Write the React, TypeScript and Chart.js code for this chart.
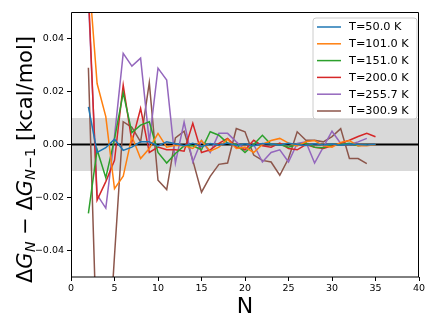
import React, { useEffect, useRef } from "react";
import { Chart, registerables } from "chart.js";

Chart.register(...registerables);

const nValues = [2, 3, 4, 5, 6, 7, 8, 9, 10, 11, 12, 13, 14, 15, 16, 17, 18, 19, 20, 21, 22, 23, 24, 25, 26, 27, 28, 29, 30, 31, 32, 33, 34, 35];

const seriesLabels = ["T=50.0 K", "T=101.0 K", "T=151.0 K", "T=200.0 K", "T=255.7 K", "T=300.9 K"];
const seriesColors = ["#1f77b4", "#ff7f0e", "#2ca02c", "#d62728", "#9467bd", "#8c564b"];

const t50 = [0.0142, -0.003, -0.0012, 0.002, -0.0022, -0.001, 0.001, 0.001, -0.0005, 0.001, 0.0003, -0.0005, 0.0005, -0.0008, 0.0004, -0.0003, 0.0006, -0.0004, 0.0003, -0.0005, 0.0004, 0.0002, -0.0003, 0.0005, 0.0, -0.0004, 0.0003, -0.0002, 0.0002, -0.0003, 0.0002, 0.0, -0.0002, 0.0001];
const t101 = [0.066, 0.023, 0.0105, -0.0167, -0.012, 0.003, -0.0053, -0.0015, 0.0042, -0.001, -0.0003, -0.0005, -0.0015, 0.0015, -0.0025, -0.001, 0.002, -0.0015, -0.001, -0.003, 0.0, 0.0015, 0.0023, 0.0005, -0.0005, 0.001, 0.0015, -0.0005, -0.001, 0.0008, 0.0015, -0.0005, -0.0005, 0.0];
const t151 = [-0.026, -0.002, -0.0125, 0.002, 0.0195, 0.0045, 0.0073, 0.0086, -0.003, -0.007, -0.0034, -0.0005, -0.0005, -0.002, 0.0048, 0.0035, 0.0005, 0.0, -0.003, 0.0, 0.0035, 0.0, 0.0, -0.001, 0.0, 0.0005, -0.001, -0.0012, 0.0, 0.0, 0.0005, -0.0005, 0.0];
const t200 = [0.058, -0.021, -0.014, -0.006, 0.0224, 0.001, 0.0136, -0.003, -0.001, -0.002, -0.002, -0.0025, 0.008, -0.003, -0.002, 0.0004, 0.0023, -0.001, -0.002, 0.0016, -0.0005, -0.001, 0.0005, -0.0015, -0.002, 0.0, -0.001, -0.0015, -0.0005, 0.0005, 0.0016, 0.003, 0.0042, 0.0029];
const t255 = [0.055, -0.019, -0.024, 0.003, 0.0344, 0.0296, 0.0326, 0.001, 0.0288, 0.0243, -0.007, 0.0085, -0.0066, 0.0015, -0.003, 0.0042, 0.0042, 0.001, -0.002, 0.0, -0.0066, -0.003, -0.002, -0.0066, 0.0004, 0.001, -0.007, -0.001, 0.005, 0.0004, 0.0, 0.001, 0.0023];
const t300 = [0.029, -0.08, -0.095, -0.042, 0.0086, 0.0065, 0.001, 0.0233, -0.0135, -0.017, 0.0025, 0.005, -0.006, -0.018, -0.012, -0.0075, -0.007, 0.006, 0.0048, -0.004, -0.006, -0.0066, -0.0116, -0.0053, 0.0048, 0.0016, 0.0016, 0.001, 0.003, 0.006, -0.0053, -0.0053, -0.0072];

const seriesValues = [t50, t101, t151, t200, t255, t300];

const xTicks = [0, 5, 10, 15, 20, 25, 30, 35, 40];
const yTicks = [-0.04, -0.02, 0.0, 0.02, 0.04];
const bandLow = -0.01;
const bandHigh = 0.01;

const FONT = "DejaVu Sans";

const overlayPlugin = {
  id: "overlay",
  beforeDatasetsDraw(chart: any) {
    const { ctx, chartArea, scales } = chart;
    const y = scales.y;
    ctx.save();
    ctx.beginPath();
    ctx.rect(chartArea.left, chartArea.top, chartArea.right - chartArea.left, chartArea.bottom - chartArea.top);
    ctx.clip();
    const yTop = y.getPixelForValue(bandHigh);
    const yBot = y.getPixelForValue(bandLow);
    ctx.fillStyle = "rgba(128,128,128,0.3)";
    ctx.fillRect(chartArea.left, yTop, chartArea.right - chartArea.left, yBot - yTop);
    const y0 = y.getPixelForValue(0);
    ctx.strokeStyle = "#000";
    ctx.lineWidth = 2;
    ctx.beginPath();
    ctx.moveTo(chartArea.left, y0);
    ctx.lineTo(chartArea.right, y0);
    ctx.stroke();
    ctx.restore();
  },
  afterDraw(chart: any) {
    const { ctx, chartArea } = chart;
    ctx.save();
    // frame
    ctx.strokeStyle = "#000";
    ctx.lineWidth = 1;
    ctx.beginPath();
    ctx.moveTo(chartArea.left + 0.5, chartArea.bottom);
    ctx.lineTo(chartArea.left + 0.5, chartArea.top + 0.5);
    ctx.lineTo(chartArea.right - 0.5, chartArea.top + 0.5);
    ctx.lineTo(chartArea.right - 0.5, chartArea.bottom);
    ctx.stroke();
    ctx.beginPath();
    ctx.moveTo(chartArea.left, chartArea.bottom);
    ctx.lineTo(chartArea.right, chartArea.bottom);
    ctx.stroke();

    // legend
    const lx = 313, ly = 18, lw = 104, lh = 101, r = 3;
    ctx.beginPath();
    ctx.moveTo(lx + r, ly);
    ctx.lineTo(lx + lw - r, ly);
    ctx.quadraticCurveTo(lx + lw, ly, lx + lw, ly + r);
    ctx.lineTo(lx + lw, ly + lh - r);
    ctx.quadraticCurveTo(lx + lw, ly + lh, lx + lw - r, ly + lh);
    ctx.lineTo(lx + r, ly + lh);
    ctx.quadraticCurveTo(lx, ly + lh, lx, ly + lh - r);
    ctx.lineTo(lx, ly + r);
    ctx.quadraticCurveTo(lx, ly, lx + r, ly);
    ctx.closePath();
    ctx.fillStyle = "rgba(255,255,255,0.8)";
    ctx.fill();
    ctx.strokeStyle = "#cccccc";
    ctx.lineWidth = 1;
    ctx.stroke();
    chart.data.datasets.forEach((ds: any, i: number) => {
      const yy = 27 + i * 16.8;
      ctx.strokeStyle = ds.borderColor;
      ctx.lineWidth = 1.5;
      ctx.beginPath();
      ctx.moveTo(317, yy);
      ctx.lineTo(341, yy);
      ctx.stroke();
      ctx.fillStyle = "#000";
      ctx.font = `11.3px "${FONT}"`;
      ctx.textAlign = "left";
      ctx.textBaseline = "middle";
      ctx.fillText(ds.label, 349, yy + 0.5);
    });

    // x title
    ctx.fillStyle = "#000";
    ctx.font = `22px "${FONT}"`;
    ctx.textAlign = "center";
    ctx.textBaseline = "alphabetic";
    ctx.fillText("N", 245, 313);

    // y title with subscripts
    ctx.translate(32, 283);
    ctx.rotate(-Math.PI / 2);
    ctx.textAlign = "left";
    ctx.textBaseline = "alphabetic";
    let x = 0;
    const draw = (txt: string, font: string, dy: number) => {
      ctx.font = font;
      ctx.fillText(txt, x, dy);
      x += ctx.measureText(txt).width;
    };
    const main = `21px "${FONT}"`;
    const mainIt = `italic 21px "${FONT}"`;
    const sub = `italic 14.5px "${FONT}"`;
    const subR = `14.5px "${FONT}"`;
    draw("Δ", main, 0);
    draw("G", mainIt, 0);
    draw("N", sub, 3);
    draw(" − ", main, 0);
    draw("Δ", main, 0);
    draw("G", mainIt, 0);
    draw("N", sub, 3);
    draw("−1", subR, 3);
    draw(" [kcal/mol]", main, 0);
    ctx.restore();
  },
};

export default function App() {
  const canvasRef = useRef<HTMLCanvasElement | null>(null);

  useEffect(() => {
    if (!canvasRef.current) return;
    const datasets = seriesValues.map((vals, i) => ({
      label: seriesLabels[i],
      data: vals.map((v, j) => ({ x: nValues[j], y: v })),
      borderColor: seriesColors[i],
      backgroundColor: seriesColors[i],
      borderWidth: 1.5,
      pointRadius: 0,
      tension: 0,
      fill: false,
    }));
    const tickFont = { family: FONT, size: 9.5 };
    const chart = new Chart(canvasRef.current, {
      type: "line",
      data: { datasets },
      options: {
        animation: false,
        responsive: false,
        devicePixelRatio: 1,
        layout: { padding: { top: 12, right: 17, left: 0, bottom: 0 } },
        plugins: { legend: { display: false }, tooltip: { enabled: false } },
        scales: {
          x: {
            type: "linear",
            min: 0,
            max: 40,
            afterBuildTicks: (s: any) => {
              s.ticks = xTicks.map((v) => ({ value: v }));
            },
            afterFit: (s: any) => {
              s.height = 50;
            },
            ticks: {
              font: tickFont,
              color: "#000",
              padding: 2,
              autoSkip: false,
              maxRotation: 0,
              callback: (v: any) => String(v),
            },
            grid: { drawOnChartArea: false, tickLength: 4, color: "#000", tickColor: "#000" },
            border: { display: false },
          },
          y: {
            type: "linear",
            min: -0.05,
            max: 0.05,
            afterBuildTicks: (s: any) => {
              s.ticks = yTicks.map((v) => ({ value: v }));
            },
            afterFit: (s: any) => {
              s.width = 71;
            },
            ticks: {
              font: tickFont,
              color: "#000",
              padding: 3,
              autoSkip: false,
              callback: (v: any) => {
                const n = Number(v);
                const s = Math.abs(n).toFixed(2);
                return n < -1e-9 ? "\u2212" + s : s;
              },
            },
            grid: { drawOnChartArea: false, tickLength: 4, color: "#000", tickColor: "#000" },
            border: { display: false },
          },
        },
      },
      plugins: [overlayPlugin],
    } as any);
    return () => chart.destroy();
  }, []);

  return (
    <div style={{ position: "fixed", left: 0, top: 0, width: 436, height: 327, background: "#fff" }}>
      <canvas ref={canvasRef} width={436} height={327} style={{ width: 436, height: 327 }} />
    </div>
  );
}
